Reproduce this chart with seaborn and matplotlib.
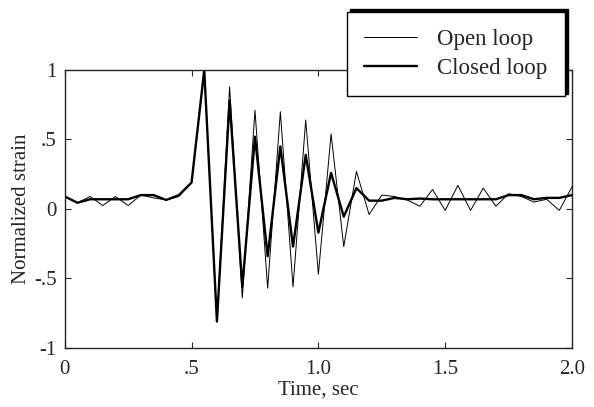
import matplotlib as mpl
import matplotlib.pyplot as plt
import numpy as np
import pandas as pd
import seaborn as sns

TIME = [0.00, 0.05, 0.10, 0.15, 0.20, 0.25, 0.30, 0.35, 0.40, 0.45,
        0.50, 0.55, 0.60, 0.65, 0.70, 0.75, 0.80, 0.85, 0.90, 0.95,
        1.00, 1.05, 1.10, 1.15, 1.20, 1.25, 1.30, 1.35, 1.40, 1.45,
        1.50, 1.55, 1.60, 1.65, 1.70, 1.75, 1.80, 1.85, 1.90, 1.95, 2.00]

OPEN_LOOP = [0.09, 0.045, 0.09, 0.025, 0.09, 0.025, 0.10, 0.08, 0.065, 0.09,
             0.19, 1.00, -0.81, 0.88, -0.64, 0.71, -0.57, 0.70, -0.56, 0.64,
             -0.47, 0.54, -0.27, 0.27, -0.04, 0.10, 0.09, 0.065, 0.02, 0.14,
             -0.01, 0.17, -0.01, 0.15, 0.02, 0.11, 0.09, 0.05, 0.07, -0.01, 0.16]

CLOSED_LOOP = [0.09, 0.045, 0.07, 0.07, 0.07, 0.07, 0.10, 0.10, 0.065, 0.10,
               0.19, 1.00, -0.81, 0.78, -0.56, 0.52, -0.34, 0.45, -0.27, 0.39,
               -0.17, 0.26, -0.055, 0.15, 0.06, 0.06, 0.08, 0.07, 0.075, 0.07,
               0.07, 0.07, 0.07, 0.07, 0.07, 0.10, 0.10, 0.07, 0.08, 0.08, 0.10]

X_TICKS = [0, 0.5, 1.0, 1.5, 2.0]
X_LABELS = ["0", ".5", "1.0", "1.5", "2.0"]
Y_TICKS = [-1, -0.5, 0, 0.5, 1]
Y_LABELS = ["-1", "-.5", "0", ".5", "1"]

sns.set_style("ticks")
plt.rcParams["font.family"] = ["Liberation Serif", "DejaVu Serif"]
plt.rcParams["font.size"] = 15
plt.rcParams["xtick.direction"] = "in"
plt.rcParams["ytick.direction"] = "in"

df = pd.DataFrame({"time": TIME, "open": OPEN_LOOP, "closed": CLOSED_LOOP})

fig = plt.figure(figsize=(5.94, 4.07), dpi=100)
ax = fig.add_axes([0.109, 0.145, 0.854, 0.683])

sns.lineplot(data=df, x="time", y="open", ax=ax, color="black",
             linewidth=0.7, label="Open loop")
sns.lineplot(data=df, x="time", y="closed", ax=ax, color="black",
             linewidth=1.7, label="Closed loop")

ax.set_xlim(0, 2)
ax.set_ylim(-1, 1)
ax.set_xticks(X_TICKS)
ax.set_xticklabels(X_LABELS)
ax.set_yticks(Y_TICKS)
ax.set_yticklabels(Y_LABELS)
ax.tick_params(top=True, right=True, length=4, width=0.8)
ax.tick_params(axis="x", pad=9)
ax.tick_params(axis="y", pad=6)
for spine in ax.spines.values():
    spine.set_linewidth(1.0)
ax.set_xlabel("Time, sec", labelpad=1)
ax.set_ylabel("Normalized strain", labelpad=2)

ax.get_legend().remove()
handles, labels = ax.get_legend_handles_labels()
leg = fig.legend(handles, labels, loc="upper right",
                 bbox_to_anchor=(0.951, 0.9705), borderaxespad=0,
                 frameon=True, fancybox=False,
                 edgecolor="black", framealpha=1, fontsize=16.5,
                 handlelength=2.3, handletextpad=0.9,
                 borderpad=0.75, labelspacing=0.35,
                 shadow={"ox": 2, "oy": 2, "color": "black", "alpha": 1})
leg.get_frame().set_linewidth(1.0)

fig.savefig("out.png", dpi=100)
